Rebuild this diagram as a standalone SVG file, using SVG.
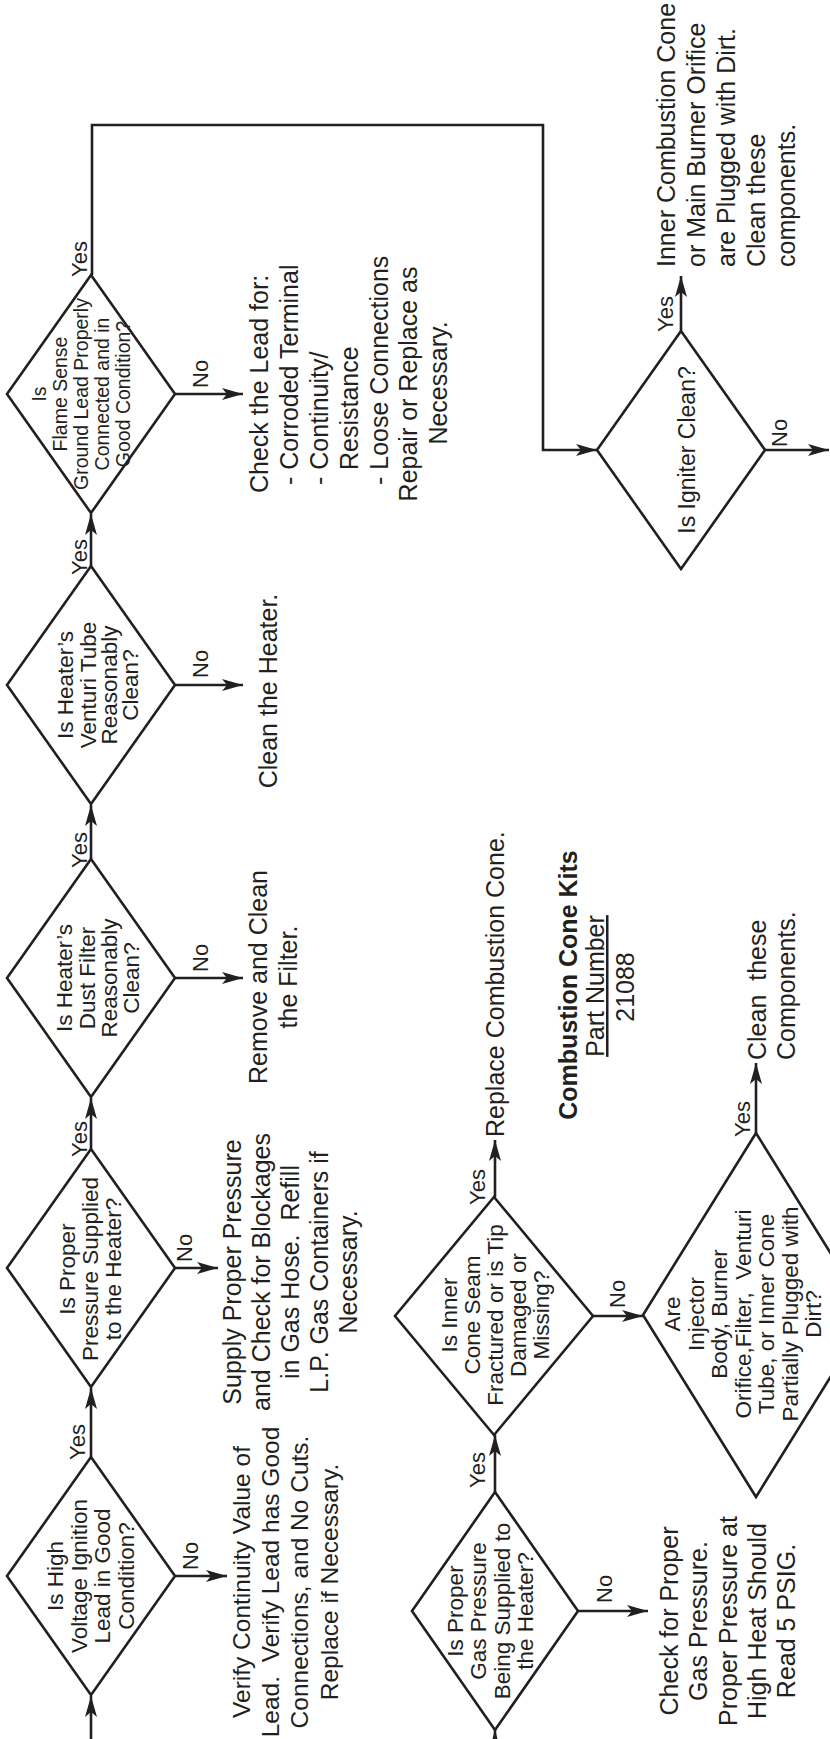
<svg xmlns="http://www.w3.org/2000/svg" width="830" height="1739" viewBox="0 0 830 1739">
<style>
.d{fill:#fff;stroke:#231f20;stroke-width:2.6;stroke-linejoin:miter}
.c{fill:none;stroke:#231f20;stroke-width:2.6}
text{font-family:"Liberation Sans",Arial,sans-serif;fill:#231f20}
.q{font-size:22.5px;text-anchor:middle}
.qs{font-size:19.5px;text-anchor:middle}
.a{font-size:25px}
.m{text-anchor:middle}
.l{font-size:22px}
.b{font-weight:bold}
</style>
<defs>
<marker id="ah" markerUnits="userSpaceOnUse" markerWidth="22" markerHeight="14" refX="21" refY="7" orient="auto">
<path d="M0,1 L21,7 L0,13 L5,7 Z" fill="#231f20"/>
</marker>
</defs>
<rect width="830" height="1739" fill="#fff"/>
<g transform="matrix(0,-1,1,0,0,1739)">
<g id="connectors">
<path class="c" d="M-5,91 L43,91" marker-end="url(#ah)"/>
<path class="c" d="M282,91 L351,91" marker-end="url(#ah)"/>
<path class="c" d="M590,91 L641,91" marker-end="url(#ah)"/>
<path class="c" d="M880,91 L934,91" marker-end="url(#ah)"/>
<path class="c" d="M1173,91 L1225,91" marker-end="url(#ah)"/>
<path class="c" d="M1464,92 L1614,92 L1614,543 L1289,543 L1289,597" marker-end="url(#ah)"/>
<path class="c" d="M163,175 L163,227" marker-end="url(#ah)"/>
<path class="c" d="M471,175 L471,218" marker-end="url(#ah)"/>
<path class="c" d="M761,175 L761,243" marker-end="url(#ah)"/>
<path class="c" d="M1054,175 L1054,243" marker-end="url(#ah)"/>
<path class="c" d="M1345,175 L1345,243" marker-end="url(#ah)"/>
<path class="c" d="M1408,681 L1463,681" marker-end="url(#ah)"/>
<path class="c" d="M1289,765 L1289,829" marker-end="url(#ah)"/>
<path class="c" d="M-5,495 L9,495" marker-end="url(#ah)"/>
<path class="c" d="M247,495 L304,495" marker-end="url(#ah)"/>
<path class="c" d="M128,578 L128,648" marker-end="url(#ah)"/>
<path class="c" d="M542,495 L599,495" marker-end="url(#ah)"/>
<path class="c" d="M423,593 L423,643" marker-end="url(#ah)"/>
<path class="c" d="M606,756 L676,756" marker-end="url(#ah)"/>
</g>
<g id="labels" class="l">
<text x="279" y="85">Yes</text>
<text x="582" y="87">Yes</text>
<text x="871" y="87">Yes</text>
<text x="1164" y="87">Yes</text>
<text x="1462" y="87">Yes</text>
<text x="169" y="198">No</text>
<text x="477" y="192">No</text>
<text x="767" y="208">No</text>
<text x="1061" y="208">No</text>
<text x="1351" y="208">No</text>
<text x="1407" y="673">Yes</text>
<text x="1292" y="787">No</text>
<text x="251" y="485">Yes</text>
<text x="136" y="612">No</text>
<text x="534" y="485">Yes</text>
<text x="431" y="625">No</text>
<text x="602" y="750">Yes</text>
</g>
<g id="d1">
<polygon class="d" points="44,91 163,7 282,91 163,175"/>
<text class="q" x="163" y="63">Is High</text>
<text class="q" x="163" y="87">Voltage Ignition</text>
<text class="q" x="163" y="110">Lead in Good</text>
<text class="q" x="163" y="134">Condition?</text>
</g>
<g id="d2">
<polygon class="d" points="352,91 471,7 590,91 471,175"/>
<text class="q" x="470" y="75">Is Proper</text>
<text class="q" x="470" y="98">Pressure Supplied</text>
<text class="q" x="470" y="121">to the Heater?</text>
</g>
<g id="d3">
<polygon class="d" points="642,91 761,7 880,91 761,175"/>
<text class="q" x="761" y="72">Is Heater’s</text>
<text class="q" x="761" y="95">Dust Filter</text>
<text class="q" x="761" y="117">Reasonably</text>
<text class="q" x="761" y="139">Clean?</text>
</g>
<g id="d4">
<polygon class="d" points="935,91 1054,7 1173,91 1054,175"/>
<text class="q" x="1054" y="73">Is Heater’s</text>
<text class="q" x="1054" y="96">Venturi Tube</text>
<text class="q" x="1054" y="117">Reasonably</text>
<text class="q" x="1054" y="138">Clean?</text>
</g>
<g id="d5">
<polygon class="d" points="1226,91 1345,7 1464,91 1345,175"/>
<text class="qs" x="1345" y="46">Is</text>
<text class="qs" x="1345" y="67">Flame Sense</text>
<text class="qs" x="1345" y="88">Ground Lead Properly</text>
<text class="qs" x="1345" y="109">Connected and in</text>
<text class="qs" x="1345" y="130">Good Condition?</text>
</g>
<g id="t1" class="m" style="font-size:24.5px">
<text x="157" y="250">Verify Continuity Value of</text>
<text x="157" y="279">Lead.&#160; Verify Lead has Good</text>
<text x="157" y="308">Connections, and No Cuts.</text>
<text x="157" y="338">Replace if Necessary.</text>
</g>
<g id="t2" class="a m">
<text x="467" y="241">Supply Proper Pressure</text>
<text x="467" y="270">and Check for Blockages</text>
<text x="467" y="299">in Gas Hose.&#160; Refill</text>
<text x="467" y="328">L.P. Gas Containers if</text>
<text x="467" y="357">Necessary.</text>
</g>
<g id="t3" class="a m">
<text x="762" y="267">Remove and Clean</text>
<text x="762" y="297">the Filter.</text>
</g>
<g id="t4" class="a m">
<text x="1048" y="277">Clean the Heater.</text>
</g>
<g id="t5" class="a">
<text x="1246" y="268">Check the Lead for:</text>
<text x="1254" y="298">- Corroded Terminal</text>
<text x="1254" y="328">- Continuity/</text>
<text x="1269" y="358">Resistance</text>
<text x="1254" y="388">- Loose Connections</text>
<text class="m" x="1355" y="417">Repair or Replace as</text>
<text class="m" x="1356" y="447">Necessary.</text>
</g>
<g id="igniter">
<polygon class="d" points="1170,681 1289,597 1408,681 1289,765"/>
<text class="q" x="1289" y="695" style="font-size:23px">Is Igniter Clean?</text>
</g>
<g id="t6" class="a">
<text x="1472" y="675">Inner Combustion Cone</text>
<text x="1472" y="705">or Main Burner Orifice</text>
<text x="1472" y="735">are Plugged with Dirt.</text>
<text x="1472" y="765">Clean these</text>
<text x="1472" y="795">components.</text>
</g>
<g id="gas">
<polygon class="d" points="9,495 128,412 247,495 128,578"/>
<text class="q" x="128" y="463">Is Proper</text>
<text class="q" x="128" y="486">Gas Pressure</text>
<text class="q" x="128" y="510">Being Supplied to</text>
<text class="q" x="128" y="533">the Heater?</text>
</g>
<g id="t7" class="a m">
<text x="118" y="678">Check for Proper</text>
<text x="118" y="707">Gas Pressure.</text>
<text x="118" y="737">Proper Pressure at</text>
<text x="118" y="766">High Heat Should</text>
<text x="118" y="795">Read 5 PSIG.</text>
</g>
<g id="inner">
<polygon class="d" points="304,494 423,395 542,494 423,593"/>
<text class="q" x="424" y="457">Is Inner</text>
<text class="q" x="424" y="480">Cone Seam</text>
<text class="q" x="424" y="503">Fractured or is Tip</text>
<text class="q" x="424" y="526">Damaged or</text>
<text class="q" x="424" y="549">Missing?</text>
</g>
<g id="t8" class="a">
<text x="602" y="504">Replace Combustion Cone.</text>
</g>
<g id="kits" class="a m">
<text class="b" x="754" y="577">Combustion Cone Kits</text>
<text x="753" y="604" text-decoration="underline">Part Number</text>
<text x="752" y="634">21088</text>
</g>
<g id="are">
<polygon class="d" points="242,756 424,643 606,756 424,869"/>
<text class="q" x="425" y="680">Are</text>
<text class="q" x="425" y="703.5">Injector</text>
<text class="q" x="425" y="727">Body, Burner</text>
<text class="q" x="425" y="750.5">Orifice,Filter,&#160; Venturi</text>
<text class="q" x="425" y="774">Tube, or Inner Cone</text>
<text class="q" x="425" y="797.5">Partially Plugged with</text>
<text class="q" x="425" y="821">Dirt?</text>
</g>
<g id="t9" class="a">
<text x="679" y="766">Clean&#160; these</text>
<text x="679" y="795">Components.</text>
</g>
</g>
</svg>
